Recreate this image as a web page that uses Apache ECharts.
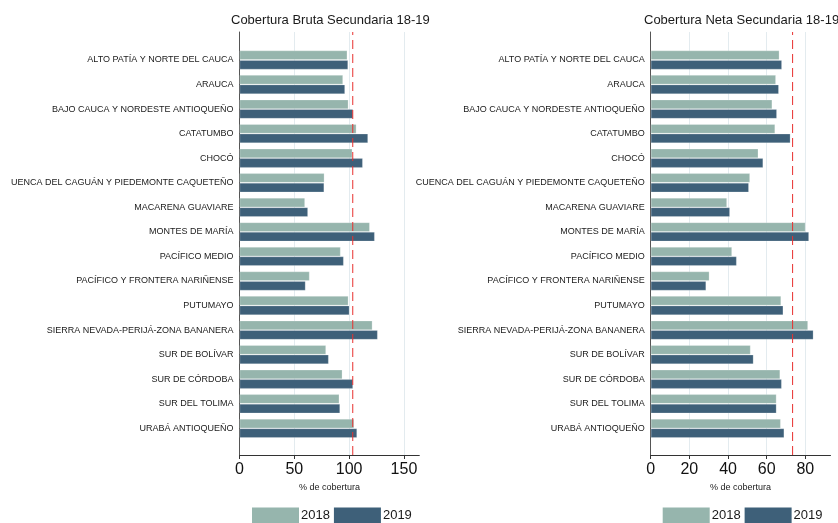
<!DOCTYPE html>
<html>
<head>
<meta charset="utf-8">
<script src="https://cdn.jsdelivr.net/npm/echarts@6/dist/echarts.min.js"></script>
<style>html,body{margin:0;padding:0;background:#fff;}#c{width:838px;height:523px;}</style>
</head>
<body>
<div id="c"></div>
<script>
const categories = [
  'ALTO PATÍA Y NORTE DEL CAUCA','ARAUCA','BAJO CAUCA Y NORDESTE ANTIOQUEÑO','CATATUMBO','CHOCÓ',
  'CUENCA DEL CAGUÁN Y PIEDEMONTE CAQUETEÑO','MACARENA GUAVIARE','MONTES DE MARÍA','PACÍFICO MEDIO',
  'PACÍFICO Y FRONTERA NARIÑENSE','PUTUMAYO','SIERRA NEVADA-PERIJÁ-ZONA BANANERA','SUR DE BOLÍVAR',
  'SUR DE CÓRDOBA','SUR DEL TOLIMA','URABÁ ANTIOQUEÑO'
];
const bruta2018 = [98.4, 94.5, 99.4, 106.7, 103.0, 77.5, 59.8, 118.9, 92.3, 64.0, 99.4, 121.3, 79.0, 93.9, 91.1, 104.6];
const bruta2019 = [99.1, 96.3, 103.6, 117.3, 112.5, 77.3, 62.5, 123.4, 95.1, 60.3, 100.3, 126.1, 81.4, 103.6, 91.8, 107.3];
const neta2018 = [66.6, 64.8, 62.9, 64.4, 55.7, 51.4, 39.5, 80.1, 42.1, 30.4, 67.5, 81.4, 51.7, 67.0, 65.1, 67.3];
const neta2019 = [67.9, 66.3, 65.3, 72.3, 58.2, 50.8, 41.0, 81.9, 44.5, 28.7, 68.6, 84.2, 53.2, 67.8, 65.1, 69.1];
const refLines = [103.3, 73.4];
const titles = ['Cobertura Bruta Secundaria 18-19', 'Cobertura Neta Secundaria 18-19'];
const years = ['2018', '2019'];
const xTicks = { bruta: { max: 164, interval: 50 }, neta: { max: 93, interval: 20 } };

const C18 = '#96b5ad', C19 = '#3e6079';
const GRIDC = '#e3ebef';
const FONT = 'Liberation Sans, Arial, sans-serif';

const panels = [
  { left: 239.5, right: 838 - 419.3, ax: xTicks.bruta, d18: bruta2018, d19: bruta2019, ref: refLines[0], title: titles[0], tl: 231, lg: 252 },
  { left: 650.7, right: 838 - 830.5, ax: xTicks.neta, d18: neta2018, d19: neta2019, ref: refLines[1], title: titles[1], tl: 644, lg: 662.7 }
];

const grid = [], xAxis = [], yAxis = [], series = [], title = [], legend = [];
panels.forEach((p, i) => {
  const gFrame = grid.length;
  // split-line colours: one per regular tick, transparent at the axis end (max)
  const nTicks = Math.floor(p.ax.max / p.ax.interval) + 1;
  const splitColors = [];
  for (let k = 0; k < nTicks; k++) splitColors.push(GRIDC);
  splitColors.push('rgba(0,0,0,0)');
  grid.push({ left: p.left, right: p.right, top: 32, bottom: 523 - 455, containLabel: false });
  grid.push({ left: p.left, right: p.right, top: 47.7, bottom: 523 - 440.6, containLabel: false });
  xAxis.push({
    gridIndex: gFrame, type: 'value', min: 0, max: p.ax.max, interval: p.ax.interval,
    name: '% de cobertura', nameLocation: 'middle', nameGap: 25,
    nameTextStyle: { fontSize: 9, color: '#222', fontFamily: FONT },
    axisLine: { show: true, lineStyle: { color: '#333', width: 1 } },
    axisTick: { show: true, length: 4, lineStyle: { color: '#333' } },
    axisLabel: { fontSize: 16, color: '#111', margin: 7, fontFamily: FONT, showMaxLabel: false },
    splitLine: { show: true, lineStyle: { color: splitColors, width: 1 } }
  });
  xAxis.push({
    gridIndex: gFrame + 1, type: 'value', min: 0, max: p.ax.max, show: false,
    splitLine: { show: false }
  });
  yAxis.push({
    gridIndex: gFrame, type: 'value', min: 0, max: 1,
    axisLine: { show: true, lineStyle: { color: '#555', width: 1 } },
    axisTick: { show: false }, axisLabel: { show: false }, splitLine: { show: false }
  });
  yAxis.push({
    gridIndex: gFrame + 1, type: 'category', data: categories, inverse: true,
    axisLine: { show: false }, axisTick: { show: false }, splitLine: { show: false },
    axisLabel: { fontSize: 9, color: '#1a1a1a', margin: 6, fontFamily: FONT, interval: 0 }
  });
  series.push({
    type: 'line', xAxisIndex: i * 2, yAxisIndex: i * 2,
    data: [[p.ref, 0], [p.ref, 1]], symbol: 'none', silent: true,
    lineStyle: { color: '#e8302f', width: 1, type: [9, 5] }, z: 5
  });
  series.push({
    name: years[0], type: 'bar', xAxisIndex: i * 2 + 1, yAxisIndex: i * 2 + 1,
    data: p.d18, barGap: '0%', barCategoryGap: '22%',
    itemStyle: { color: C18, borderColor: 'rgba(255,255,255,0.3)', borderWidth: 0.8 }, z: 3
  });
  series.push({
    name: years[1], type: 'bar', xAxisIndex: i * 2 + 1, yAxisIndex: i * 2 + 1,
    data: p.d19, barGap: '0%', barCategoryGap: '22%',
    itemStyle: { color: C19, borderColor: 'rgba(255,255,255,0.25)', borderWidth: 0.8 }, z: 3
  });
  title.push({
    text: p.title, left: p.tl, top: 14, padding: 0,
    textStyle: { fontSize: 13, fontWeight: 'normal', color: '#1a1a1a', fontFamily: FONT }
  });
  legend.push({
    data: years, left: p.lg, top: 507.5, padding: 0, orient: 'horizontal',
    icon: 'rect', itemWidth: 47, itemHeight: 16, itemGap: 4,
    itemStyle: { borderWidth: 0 },
    textStyle: { fontSize: 13, color: '#1a1a1a', fontFamily: FONT, padding: [0, 0, 0, -3] },
    selectedMode: false
  });
});

const chart = echarts.init(document.getElementById('c'), null, { renderer: 'canvas' });
chart.setOption({
  animation: false,
  backgroundColor: '#fff',
  textStyle: { fontFamily: FONT },
  grid, xAxis, yAxis, series, title, legend,
  graphic: [{ type: 'rect', left: 0, top: 0, z: 100, shape: { width: 11, height: 523 }, style: { fill: '#fff' } }]
});
</script>
</body>
</html>
